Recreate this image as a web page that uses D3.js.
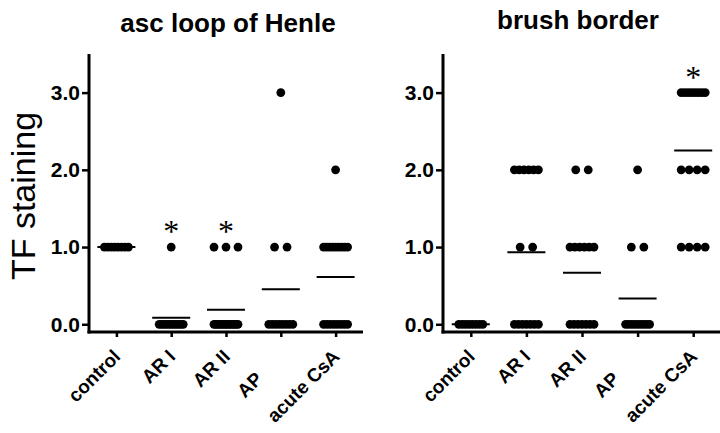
<!DOCTYPE html>
<html lang="en">
  <head>
    <style>
      html, body { margin: 0; padding: 0; background: #fff; }
      svg { display: block; font-family: "Liberation Sans", Arial, sans-serif; }
    </style>
    <script src="https://d3js.org/d3.v7.min.js"></script>
  </head>
  <body>
    <svg width="720" height="433"></svg>
    <script>
      var categories = ['control', 'AR I', 'AR II', 'AP', 'acute CsA'];
      var tickLabels = ['control', 'AR I', 'AR II', 'AP\u00a0\u00a0\u00a0\u00a0\u00a0\u00a0', 'acute CsA'];
      var yTicks = [0, 1, 2, 3];

      // individual scores per group
      var henleValues = [
        [1, 1, 1, 1, 1, 1, 1, 1],
        [1, 0, 0, 0, 0, 0, 0, 0, 0, 0, 0, 0],
        [1, 1, 1, 0, 0, 0, 0, 0, 0, 0, 0, 0, 0, 0, 0, 0],
        [3, 1, 1, 0, 0, 0, 0, 0, 0, 0, 0],
        [2, 1, 1, 1, 1, 1, 1, 1, 1, 1, 0, 0, 0, 0, 0, 0, 0, 0]
      ];
      var brushValues = [
        [0, 0, 0, 0, 0, 0, 0, 0],
        [2, 2, 2, 2, 2, 2, 1, 1, 0, 0, 0, 0, 0, 0, 0],
        [2, 2, 1, 1, 1, 1, 1, 1, 0, 0, 0, 0, 0, 0, 0],
        [2, 1, 1, 0, 0, 0, 0, 0, 0, 0, 0, 0],
        [3, 3, 3, 3, 3, 3, 3, 3, 2, 2, 2, 2, 1, 1, 1, 1]
      ];
      var henleStars = ['AR I', 'AR II'];
      var brushStars = ['acute CsA'];

      var svg = d3.select('svg');

      svg.append('text')
        .attr('transform', 'translate(35,196) rotate(-90)')
        .attr('text-anchor', 'middle')
        .attr('font-size', 34)
        .text('TF staining');

      function panel(title, values, stars, x0, x1, titleX, titleY) {
        var x = d3.scalePoint().domain(categories).range([x0, x1]).padding(0.5);
        var y = d3.scaleLinear().domain([-0.1, 3.5]).range([332, 54]);
        var g = svg.append('g');

        g.append('text')
          .attr('x', titleX).attr('y', titleY)
          .attr('text-anchor', 'middle')
          .attr('font-size', 26).attr('font-weight', 'bold')
          .text(title);

        var ya = g.append('g')
          .attr('transform', 'translate(' + x0 + ',0)')
          .call(d3.axisLeft(y).tickValues(yTicks).tickFormat(d3.format('.1f')).tickSize(7).tickPadding(2));
        ya.select('.domain').remove();
        ya.selectAll('line').attr('stroke-width', 2.5);
        ya.selectAll('text').attr('font-size', 21).attr('font-weight', 'bold')
          .attr('font-family', '"Liberation Sans", Arial, sans-serif');

        var xa = g.append('g')
          .attr('transform', 'translate(0,332)')
          .call(d3.axisBottom(x).tickSize(5).tickFormat(function(d, i) { return tickLabels[i]; }));
        xa.select('.domain').remove();
        xa.selectAll('line').attr('stroke-width', 2.5);
        xa.selectAll('text')
          .attr('font-size', 19).attr('font-weight', 'bold')
          .attr('font-family', '"Liberation Sans", Arial, sans-serif')
          .attr('text-anchor', 'end')
          .attr('y', 0).attr('dy', '0.35em')
          .attr('transform', 'translate(0,21) rotate(-45)');

        g.append('line')
          .attr('x1', x0).attr('x2', x0).attr('y1', y(3.5)).attr('y2', 333.5)
          .attr('stroke', '#000').attr('stroke-width', 3);
        g.append('line')
          .attr('x1', x0 - 1.5).attr('x2', x1).attr('y1', 332).attr('y2', 332)
          .attr('stroke', '#000').attr('stroke-width', 3);

        categories.forEach(function(c, ci) {
          var vals = values[ci];
          var cx = x(c);
          d3.groups(vals, function(v) { return v; }).forEach(function(grp) {
            var n = grp[1].length;
            var step = n > 1 ? Math.min(12.5, 24 / (n - 1)) : 0;
            g.selectAll(null)
              .data(grp[1])
              .enter().append('circle')
              .attr('cx', function(d, i) { return cx + (i - (n - 1) / 2) * step; })
              .attr('cy', function(d) { return y(d); })
              .attr('r', 4.4)
              .attr('fill', '#000');
          });
          var m = d3.mean(vals);
          g.append('line')
            .attr('x1', cx - 19).attr('x2', cx + 19)
            .attr('y1', y(m)).attr('y2', y(m))
            .attr('stroke', '#000').attr('stroke-width', 2);
          if (stars.indexOf(c) >= 0) {
            g.append('text')
              .attr('x', cx).attr('y', y(d3.max(vals)) - 5)
              .attr('text-anchor', 'middle')
              .attr('font-family', '"Liberation Serif", serif')
              .attr('font-size', 32)
              .text('*');
          }
        });
      }

      panel('asc loop of Henle', henleValues, henleStars, 89, 363, 228, 32);
      panel('brush border', brushValues, brushStars, 443, 721, 578, 29);
    </script>
  </body>
</html>
